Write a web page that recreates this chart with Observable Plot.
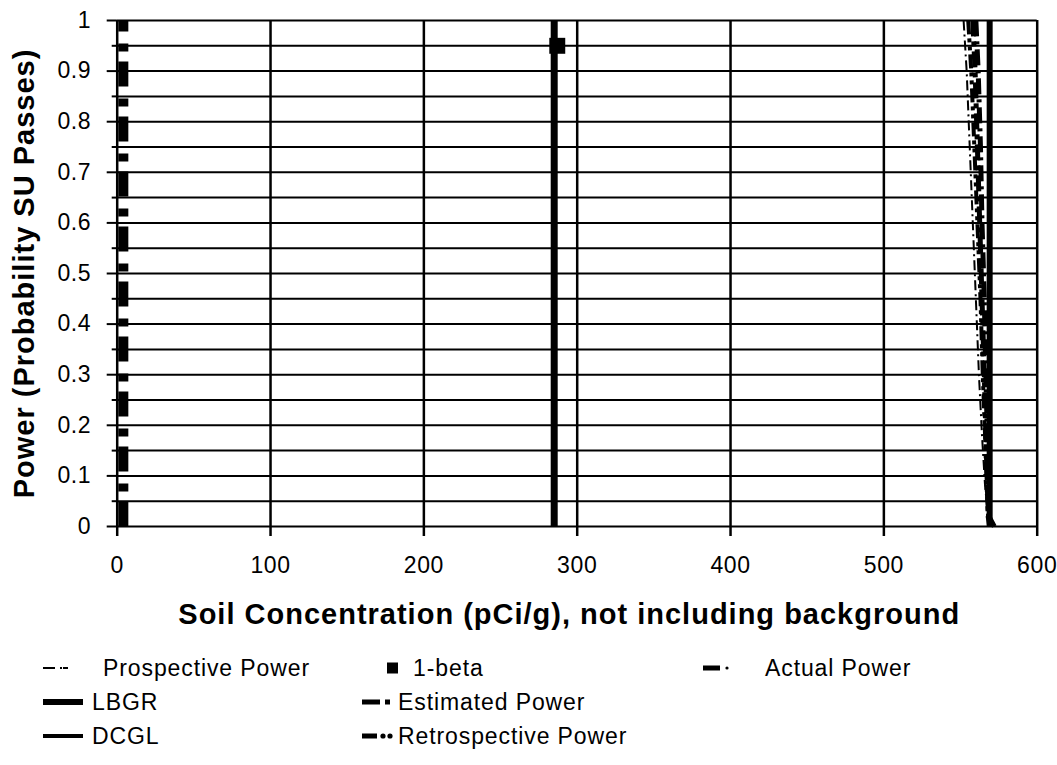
<!DOCTYPE html>
<html><head><meta charset="utf-8">
<script src="https://cdn.jsdelivr.net/npm/d3@7"></script>
<script src="https://cdn.jsdelivr.net/npm/@observablehq/plot@0.6"></script>
<style>
body{margin:0;background:#fff;font-family:"Liberation Sans",Arial,sans-serif;}
#wrap{position:relative;width:1057px;height:765px;overflow:hidden;}
#chart svg text{letter-spacing:0.6px;}
.lg{position:absolute;font-size:23px;letter-spacing:0.9px;line-height:1;color:#000;white-space:nowrap;transform:translateY(-50%);}
#sw{position:absolute;left:0;top:0;}
</style></head><body>
<div id="wrap"><div id="chart"></div><svg id="sw" width="1057" height="765"></svg></div>
<script>
// ---- data ----
const xTicks = [0, 100, 200, 300, 400, 500, 600];
const xLabels = ["0", "100", "200", "300", "400", "500", "600"];
const yMajor = [0, 0.1, 0.2, 0.3, 0.4, 0.5, 0.6, 0.7, 0.8, 0.9, 1];
const yLabels = ["0", "0.1", "0.2", "0.3", "0.4", "0.5", "0.6", "0.7", "0.8", "0.9", "1"];
const yMinor = [0.05, 0.15, 0.25, 0.35, 0.45, 0.55, 0.65, 0.75, 0.85, 0.95];
const lbgr = [285];
const dcgl = [569];
const betaX = [287];
const betaY = [0.95];
const prospX = [552, 554, 556, 558, 560, 562, 564, 566, 568, 570];
const prospY = [1, 0.9, 0.75, 0.6, 0.45, 0.3, 0.18, 0.08, 0.02, 0];
const retroX = [555, 557, 559, 561, 563, 564.5, 566, 567, 568, 569];
const retroY = [1, 0.9, 0.75, 0.6, 0.45, 0.3, 0.18, 0.08, 0.02, 0];
const estX = [558, 559.5, 561, 562.5, 564, 565.5, 566.5, 567.5, 568, 569];
const estY = [1, 0.9, 0.75, 0.6, 0.45, 0.3, 0.18, 0.08, 0.02, 0];
const estLowX = [4, 4];
const estLowY = [0, 1];
const actX = [560, 561.5, 563, 564, 565.5, 566.5, 567.5, 568, 568.5, 572];
const actY = [1, 0.9, 0.75, 0.6, 0.45, 0.3, 0.18, 0.08, 0.02, 0];
const yTitle = "Power (Probability SU Passes)";
const xTitle = "Soil Concentration (pCi/g), not including background";
const legendNames = ["Prospective Power", "LBGR", "DCGL", "1-beta", "Estimated Power", "Retrospective Power", "Actual Power"];

const yLab = new Map(yMajor.map((d, i) => [d, yLabels[i]]));
const xLab = new Map(xTicks.map((d, i) => [d, xLabels[i]]));
const yAll = yMajor.concat(yMinor);
const lineOpts = {stroke: "black", strokeLinecap: "butt", strokeLinejoin: "miter"};

const plot = Plot.plot({
  width: 1057, height: 640,
  marginLeft: 116.7, marginRight: 20.3, marginTop: 20, marginBottom: 114,
  x: {domain: [0, 600]},
  y: {domain: [0, 1]},
  style: {fontFamily: "Liberation Sans, Arial, sans-serif", fontSize: "23px", color: "black", background: "white", overflow: "visible"},
  marks: [
    Plot.gridY({ticks: yAll, stroke: "black", strokeOpacity: 1, strokeWidth: 2}),
    Plot.gridX({ticks: xTicks, stroke: "black", strokeOpacity: 1, strokeWidth: 2.5}),
    Plot.axisY({ticks: yMajor, tickSize: 10, tickPadding: 16, tickFormat: d => yLab.get(d), strokeWidth: 2, label: null}),
    Plot.axisY({ticks: yMinor, tickSize: 5, tickFormat: () => "", strokeWidth: 2, label: null}),
    Plot.axisX({ticks: xTicks, tickSize: 10, tickPadding: 20, tickFormat: d => xLab.get(d), strokeWidth: 2.5, label: null}),
    Plot.ruleX(lbgr, {x: d => d, y1: 0, y2: 1, stroke: "black", strokeWidth: 7}),
    Plot.ruleX(dcgl, {x: d => d, y1: 0, y2: 1, stroke: "black", strokeWidth: 6}),
    Plot.line(estLowY, {...lineOpts, x: estLowX, y: estLowY, strokeWidth: 10, strokeDasharray: "25,10,8,12"}),
    Plot.line(prospY, {...lineOpts, x: prospX, y: prospY, strokeWidth: 2, strokeDasharray: "10,4,2,4"}),
    Plot.line(retroY, {...lineOpts, x: retroX, y: retroY, strokeWidth: 4, strokeDasharray: "14,4,4,4,4,4"}),
    Plot.line(estY, {...lineOpts, x: estX, y: estY, strokeWidth: 5, strokeDasharray: "16,5,5,5"}),
    Plot.line(actY, {...lineOpts, x: actX, y: actY, strokeWidth: 5, strokeDasharray: "16,5,3,5"}),
    Plot.dot(betaY, {x: betaX, y: betaY, symbol: "square", r: 9, fill: "black", stroke: null}),
    Plot.text([yTitle], {text: d => d, frameAnchor: "left", rotate: -90, dx: -92, textAnchor: "middle", lineAnchor: "middle", fontSize: 29, fontWeight: "bold", fill: "black"}),
    Plot.text([xTitle], {text: d => d, frameAnchor: "bottom", dx: -8, dy: 88, textAnchor: "middle", lineAnchor: "middle", fontSize: 29, fontWeight: "bold", fill: "black"})
  ]
});
document.getElementById("chart").appendChild(plot);
d3.select(plot).selectAll("g[font-size='29'] text").style("letter-spacing", "1px");

// ---- legend ----
const lgPos = [[103, 668], [92, 702], [92, 736], [413, 668], [398, 702], [398, 736], [765, 668]];
const wrap = document.getElementById("wrap");
legendNames.forEach((n, i) => {
  const d = document.createElement("div");
  d.className = "lg";
  d.textContent = n;
  d.style.left = lgPos[i][0] + "px";
  d.style.top = lgPos[i][1] + "px";
  wrap.appendChild(d);
});
const sw = d3.select("#sw");
const rect = (x0, x1, cy, h) => sw.append("rect").attr("x", x0).attr("y", cy - h / 2).attr("width", x1 - x0).attr("height", h).attr("fill", "black");
// Prospective
rect(43, 55, 668, 2); rect(60, 62, 668, 2); rect(63, 68, 668, 2);
// LBGR
rect(43, 83, 702, 6);
// DCGL
rect(43, 83, 736, 4);
// 1-beta
rect(387, 398, 668, 11);
// Estimated
rect(362, 380, 702, 5); rect(385, 390, 702, 5);
// Retrospective
rect(362, 377, 736, 5);
sw.append("circle").attr("cx", 383).attr("cy", 736).attr("r", 2.6);
sw.append("circle").attr("cx", 390).attr("cy", 736).attr("r", 2.6);
// Actual
rect(703, 720, 668, 5);
sw.append("circle").attr("cx", 727).attr("cy", 668).attr("r", 1.6);
</script></body></html>
